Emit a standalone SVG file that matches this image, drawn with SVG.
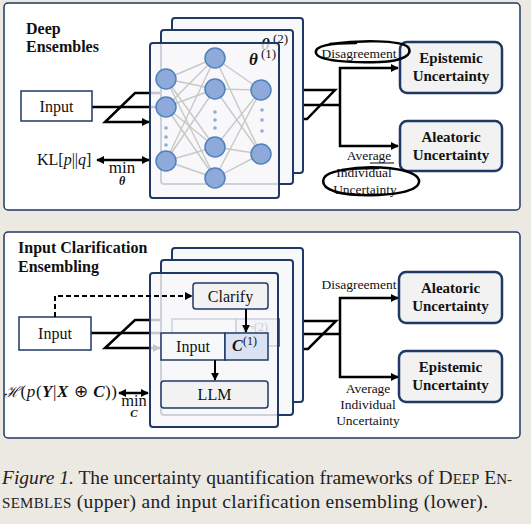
<svg xmlns="http://www.w3.org/2000/svg" width="531" height="524" viewBox="0 0 531 524">
<style>
text{font-family:"Liberation Serif","Times New Roman",serif;fill:#111}
.panel{fill:#fff;stroke:#1f3864;stroke-width:1.5}
.layer{fill:#f7f8fa;stroke:#1f3864;stroke-width:2}
.front{fill:#f7f8fa;fill-opacity:0.8;stroke:#1f3864;stroke-width:2}
.out{fill:#f2f2f2;stroke:#1f3864;stroke-width:2.5}
.box{fill:#f2f2f2;stroke:#1f3864;stroke-width:1.5}
.inbox{fill:#fff;stroke:#1f3864;stroke-width:1.5}
.con{fill:none;stroke:#000;stroke-width:2.5}
.thin{fill:none;stroke:#000;stroke-width:2}
.edge{stroke:#c8c8c8;stroke-width:1.4}
.node{fill:#8eaadb;stroke:#4f81bd;stroke-width:1.5}
.dot{fill:#8eaadb}
.title{font-weight:bold;font-size:16px}
.lab{font-weight:bold;font-size:15px}
.scrib{fill:none;stroke:#000;stroke-width:2.5;stroke-linecap:round}
.cap{font-size:19.5px;fill:#222}
</style>
<defs>
<marker id="arr" viewBox="0 0 10 10" refX="9" refY="5" markerWidth="8" markerHeight="8" markerUnits="userSpaceOnUse" orient="auto-start-reverse">
<path d="M0,0 L10,5 L0,10 z" fill="#000"/>
</marker>
</defs>
<rect width="531" height="524" fill="#ece8e2"/>
<g id="panel-upper"><rect class="panel" x="4" y="3" width="516" height="207" rx="4"/>
<text class="title" x="26" y="34">Deep</text><text class="title" x="26" y="52">Ensembles</text></g>
<g id="panel-lower"><rect class="panel" x="4" y="232" width="516" height="206" rx="4"/>
<text class="title" x="18" y="253">Input Clarification</text><text class="title" x="18" y="272">Ensembling</text></g>

<g id="connectors">
<path class="con" d="M92,107 H161"/>
<path class="con" d="M172,93 H135 L105,122 H149" marker-end="url(#arr)"/>
<path class="con" d="M97,160 H149" marker-start="url(#arr)" marker-end="url(#arr)"/>
<path class="con" d="M303,90 H335 L307,119 H279"/>
<path class="con" d="M293,105 H340"/>
<path class="con" d="M340,105 V68 H398" marker-end="url(#arr)"/>
<path class="con" d="M340,105 V146 H398" marker-end="url(#arr)"/>
<path class="con" d="M91,333 H161"/>
<path class="con" d="M172,320 H135 L105,348 H160" marker-end="url(#arr)"/>
<path class="con" d="M119,393 H148" marker-start="url(#arr)" marker-end="url(#arr)"/>
<path class="con" d="M303,321 H336 L308,349 H278"/>
<path class="con" d="M293,334 H340"/>
<path class="con" d="M340,334 V298 H398" marker-end="url(#arr)"/>
<path class="con" d="M340,334 V377 H398" marker-end="url(#arr)"/>
</g>

<g id="input-upper"><rect class="inbox" x="21" y="91" width="71" height="30"/><text x="56.5" y="112" font-size="16" text-anchor="middle">Input</text></g>
<g id="kl"><text x="37" y="165" font-size="16">KL[<tspan font-style="italic">p</tspan>||<tspan font-style="italic">q</tspan>]</text>
<text x="122" y="173" font-size="17" text-anchor="middle">min</text><text x="122" y="185" font-size="12" font-weight="bold" font-style="italic" text-anchor="middle">θ</text></g>

<g id="ensemble-upper">
<rect class="layer" x="172" y="18" width="131" height="155" rx="3"/>
<rect class="layer" x="161" y="30" width="132" height="154" rx="3"/>
<text x="261" y="50" font-size="17" font-weight="bold" font-style="italic">θ</text><text x="273" y="43" font-size="13">(2)</text>
<rect class="front" x="150" y="43" width="129" height="155" rx="3"/>
<g>
<line class="edge" x1="166" y1="79" x2="215" y2="58"/><line class="edge" x1="166" y1="79" x2="215" y2="89"/><line class="edge" x1="166" y1="79" x2="215" y2="147"/><line class="edge" x1="166" y1="79" x2="215" y2="178"/>
<line class="edge" x1="166" y1="107" x2="215" y2="58"/><line class="edge" x1="166" y1="107" x2="215" y2="89"/><line class="edge" x1="166" y1="107" x2="215" y2="147"/><line class="edge" x1="166" y1="107" x2="215" y2="178"/>
<line class="edge" x1="166" y1="161" x2="215" y2="58"/><line class="edge" x1="166" y1="161" x2="215" y2="89"/><line class="edge" x1="166" y1="161" x2="215" y2="147"/><line class="edge" x1="166" y1="161" x2="215" y2="178"/>
<line class="edge" x1="215" y1="58" x2="261" y2="90"/><line class="edge" x1="215" y1="58" x2="261" y2="154"/>
<line class="edge" x1="215" y1="89" x2="261" y2="90"/><line class="edge" x1="215" y1="89" x2="261" y2="154"/>
<line class="edge" x1="215" y1="147" x2="261" y2="90"/><line class="edge" x1="215" y1="147" x2="261" y2="154"/>
<line class="edge" x1="215" y1="178" x2="261" y2="90"/><line class="edge" x1="215" y1="178" x2="261" y2="154"/>
</g>
<circle class="node" cx="166" cy="79" r="10"/><circle class="node" cx="166" cy="107" r="10"/><circle class="node" cx="166" cy="161" r="10"/>
<circle class="node" cx="215" cy="58" r="10"/><circle class="node" cx="215" cy="89" r="10"/><circle class="node" cx="215" cy="147" r="10"/><circle class="node" cx="215" cy="178" r="10"/>
<circle class="node" cx="261" cy="90" r="10"/><circle class="node" cx="261" cy="154" r="10"/>
<circle class="dot" cx="166" cy="128" r="1.8"/><circle class="dot" cx="166" cy="137" r="1.8"/><circle class="dot" cx="166" cy="145" r="1.8"/>
<circle class="dot" cx="215" cy="112" r="1.8"/><circle class="dot" cx="215" cy="120" r="1.8"/><circle class="dot" cx="215" cy="128" r="1.8"/>
<circle class="dot" cx="262" cy="110" r="1.8"/><circle class="dot" cx="262" cy="120" r="1.8"/><circle class="dot" cx="262" cy="131" r="1.8"/>
<text x="249" y="65" font-size="17" font-weight="bold" font-style="italic">θ</text><text x="261" y="58" font-size="13">(1)</text>
</g>

<g id="epistemic-upper"><rect class="out" x="400" y="42" width="102" height="51" rx="7"/><text class="lab" x="451" y="63" text-anchor="middle">Epistemic</text><text class="lab" x="451" y="81" text-anchor="middle">Uncertainty</text></g>
<g id="aleatoric-upper"><rect class="out" x="400" y="121" width="102" height="50" rx="7"/><text class="lab" x="451" y="142" text-anchor="middle">Aleatoric</text><text class="lab" x="451" y="160" text-anchor="middle">Uncertainty</text></g>
<g id="labels-upper">
<text x="359" y="58" font-size="13.5" text-anchor="middle">Disagreement</text>
<text x="369" y="160" font-size="13.5" text-anchor="middle">Average</text>
<text x="364" y="177" font-size="13.5" text-anchor="middle">Individual</text>
<text x="365" y="194" font-size="13.5" text-anchor="middle">Uncertainty</text>
<path class="scrib" d="M330,44 C360,40 400,40 408,47 C414,55 402,61 380,62 C350,63 318,61 316,53 C314,46 330,43 356,43"/>
<path class="scrib" d="M342,170 C372,164 415,168 419,180 C421,192 390,196 360,195 C330,194 320,186 324,178 C328,170 350,168 378,168"/>
<line x1="370" y1="163" x2="394" y2="163" stroke="#000" stroke-width="1"/>
</g>

<g id="input-lower"><rect class="inbox" x="19" y="317" width="72" height="33"/><text x="55" y="339" font-size="16" text-anchor="middle">Input</text></g>
<g id="entropy"><text x="4" y="397" font-size="17" textLength="113" lengthAdjust="spacing"><tspan font-family="DejaVu Serif, serif" font-style="italic" font-size="15">ℋ</tspan>(<tspan font-style="italic">p</tspan>(<tspan font-weight="bold" font-style="italic">Y</tspan>|<tspan font-weight="bold" font-style="italic">X</tspan> ⊕ <tspan font-weight="bold" font-style="italic">C</tspan>))</text>
<text x="134" y="406" font-size="16.5" text-anchor="middle">min</text><text x="134" y="417" font-size="11" font-weight="bold" font-style="italic" text-anchor="middle">C</text></g>

<g id="ensemble-lower">
<rect class="layer" x="172" y="248" width="131" height="154" rx="3"/>
<rect class="layer" x="161" y="260" width="132" height="155" rx="3"/>
<rect x="172" y="319" width="64" height="27" fill="#f7f8fa" stroke="#1f3864" stroke-width="1.5"/>
<rect x="236" y="319" width="43" height="27" fill="#dae3f3" stroke="#1f3864" stroke-width="1.5"/>
<text x="243" y="337" font-size="16" font-weight="bold" font-style="italic">C</text><text x="254" y="331" font-size="12">(2)</text>
<rect class="front" x="150" y="273" width="128" height="154" rx="3"/>
</g>
<g id="clarify"><rect class="box" x="193" y="283" width="75" height="26" rx="3"/><text x="230.5" y="302" font-size="16" text-anchor="middle">Clarify</text></g>
<g id="input-c">
<rect x="161" y="333" width="64" height="27" fill="#f7f8fa" stroke="#1f3864" stroke-width="1.5"/>
<text x="193" y="352" font-size="16" text-anchor="middle">Input</text>
<rect x="225" y="333" width="43" height="27" fill="#dae3f3" stroke="#1f3864" stroke-width="1.5"/>
<text x="232" y="351" font-size="16" font-weight="bold" font-style="italic">C</text><text x="243" y="345" font-size="12">(1)</text>
</g>
<g id="llm"><rect class="box" x="161" y="381" width="107" height="27" rx="3"/><text x="214.5" y="400" font-size="16" text-anchor="middle">LLM</text></g>

<g id="inner-connectors">
<path class="thin" d="M55,317 V296 H192" stroke-dasharray="5,3" stroke-width="1.5" marker-end="url(#arr)"/>
<path class="thin" d="M246,309 V332" marker-end="url(#arr)"/>
<path class="thin" d="M215,360 V380" marker-end="url(#arr)"/>
</g>

<g id="aleatoric-lower"><rect class="out" x="399" y="272" width="103" height="51" rx="7"/><text class="lab" x="450.5" y="293" text-anchor="middle">Aleatoric</text><text class="lab" x="450.5" y="311" text-anchor="middle">Uncertainty</text></g>
<g id="epistemic-lower"><rect class="out" x="399" y="351" width="103" height="51" rx="7"/><text class="lab" x="450.5" y="372" text-anchor="middle">Epistemic</text><text class="lab" x="450.5" y="390" text-anchor="middle">Uncertainty</text></g>
<g id="labels-lower">
<text x="359" y="289" font-size="13.5" text-anchor="middle">Disagreement</text>
<text x="368" y="393" font-size="13.5" text-anchor="middle">Average</text>
<text x="368" y="409" font-size="13.5" text-anchor="middle">Individual</text>
<text x="368" y="425" font-size="13.5" text-anchor="middle">Uncertainty</text>
</g>

<g id="caption">
<text class="cap" x="2" y="484" textLength="510" lengthAdjust="spacing"><tspan font-style="italic">Figure 1.</tspan> The uncertainty quantification frameworks of D<tspan font-size="15">EEP</tspan> E<tspan font-size="15">N-</tspan></text>
<text class="cap" x="2" y="508" textLength="486" lengthAdjust="spacing"><tspan font-size="15">SEMBLES</tspan> (upper) and input clarification ensembling (lower).</text>
</g>
</svg>
